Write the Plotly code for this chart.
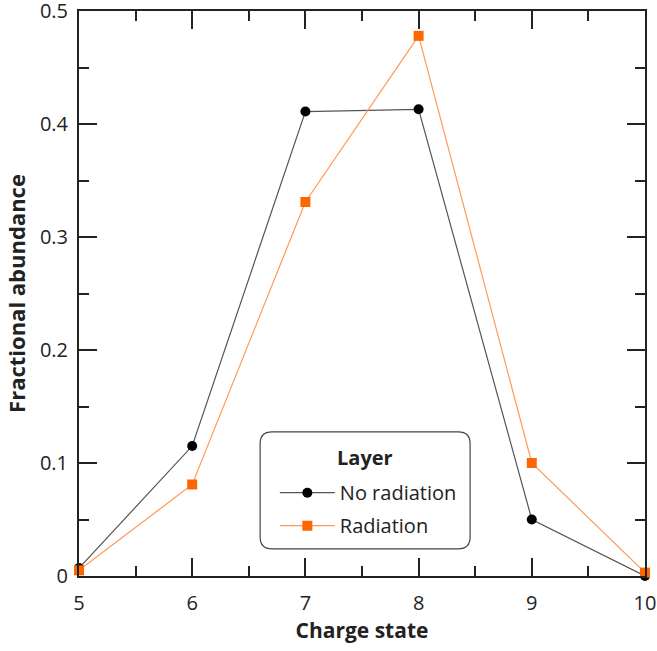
import plotly.graph_objects as go

charge_state = [5, 6, 7, 8, 9, 10]
no_radiation = [0.007, 0.115, 0.411, 0.413, 0.050, 0.000]
radiation = [0.005, 0.081, 0.331, 0.478, 0.100, 0.003]

FONT = "Open Sans"

fig = go.Figure()
fig.add_trace(go.Scatter(
    x=charge_state, y=no_radiation, name="No radiation", mode="lines+markers",
    line=dict(color="#555555", width=1.2), legendgroup="a",
    marker=dict(symbol="circle", size=10, color="black"),
    cliponaxis=False,
))
fig.add_trace(go.Scatter(
    x=charge_state, y=radiation, name="Radiation", mode="lines+markers",
    line=dict(color="#FF9955", width=1.2), legendgroup="b",
    marker=dict(symbol="square", size=10, color="#FF6600"),
    cliponaxis=False,
))

# rounded legend box (paper coords)
x0, x1, y0, y1 = 0.320, 0.691, 0.048, 0.255
rx, ry = 0.021, 0.021
path = (f"M {x0+rx},{y0} L {x1-rx},{y0} Q {x1},{y0} {x1},{y0+ry} "
        f"L {x1},{y1-ry} Q {x1},{y1} {x1-rx},{y1} L {x0+rx},{y1} "
        f"Q {x0},{y1} {x0},{y1-ry} L {x0},{y0+ry} Q {x0},{y0} {x0+rx},{y0} Z")

fig.update_layout(
    width=657, height=651,
    margin=dict(l=79, r=12, t=11, b=75),
    plot_bgcolor="white", paper_bgcolor="white",
    font=dict(family=FONT, size=20, color="#222"),
    shapes=[dict(type="path", xref="paper", yref="paper", path=path,
                 line=dict(color="#444", width=1.2), fillcolor="white", layer="below")],
    annotations=[dict(text="<b>Layer</b>", xref="paper", yref="paper",
                      x=(x0 + x1) / 2, y=0.209, xanchor="center", yanchor="middle",
                      showarrow=False, font=dict(size=20, color="#222"))],
    legend=dict(
        x=0.346, y=0.182, xanchor="left", yanchor="top",
        bgcolor="rgba(0,0,0,0)", borderwidth=0,
        font=dict(size=20), itemwidth=55, tracegroupgap=4,
    ),
    xaxis=dict(
        range=[5, 10], tickvals=[5, 6, 7, 8, 9, 10], automargin=False,
        showline=True, linecolor="#222", linewidth=2, mirror="ticks",
        ticks="inside", ticklen=18, tickwidth=2, tickcolor="#222",
        minor=dict(ticks="inside", ticklen=10, tickwidth=2, tickcolor="#222", dtick=0.5, showgrid=False),
        showgrid=False, zeroline=False, ticklabelstandoff=8, ticklabeloverflow="allow",
        title=dict(text="<b>Charge state</b>", font=dict(size=21), standoff=5),
        tickfont=dict(size=20),
    ),
    yaxis=dict(
        range=[0, 0.5], tickvals=[0, 0.1, 0.2, 0.3, 0.4, 0.5],
        ticktext=["0", "0.1", "0.2", "0.3", "0.4", "0.5"], automargin=False,
        showline=True, linecolor="#222", linewidth=2, mirror="ticks",
        ticks="inside", ticklen=18, tickwidth=2, tickcolor="#222",
        minor=dict(ticks="inside", ticklen=10, tickwidth=2, tickcolor="#222", dtick=0.05, showgrid=False),
        showgrid=False, zeroline=False, ticklabelstandoff=5, ticklabeloverflow="allow",
        title=dict(text="<b>Fractional abundance</b>", font=dict(size=22), standoff=8),
        tickfont=dict(size=20),
    ),
)

fig.write_html("out.html", config={"displayModeBar": False},
               post_script="document.body.style.margin='0';")
